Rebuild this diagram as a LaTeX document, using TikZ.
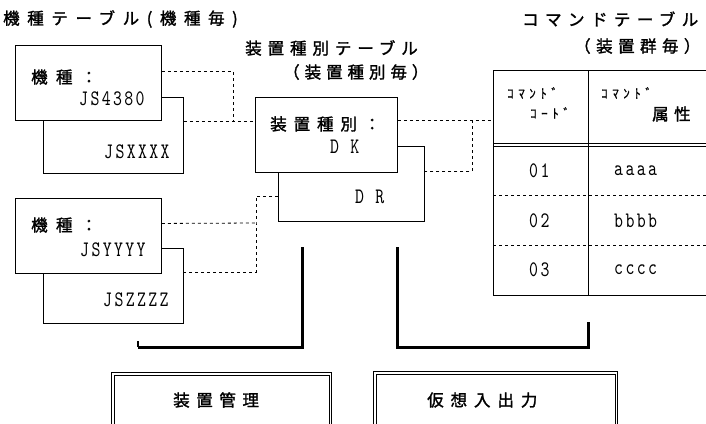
\documentclass[tikz,border=0pt]{standalone}
\usepackage{fontspec}
\usepackage{graphicx}
\newfontfamily\jp{Noto Sans CJK JP}[FakeBold=1.6]
\newfontfamily\jpl{Noto Sans CJK JP}[FakeBold=0.8]
\newfontfamily\lmmono{lmmono10-regular.otf}[LetterSpace=14]
\newcommand\tallmono[1]{\scalebox{1}[1.3]{#1}}
\usetikzlibrary{calc}
\tikzset{
  box/.style={draw, line width=0.9pt, fill=white, rectangle, inner sep=0pt, anchor=north west},
  outerbox/.style={draw, line width=1.3pt, fill=white, rectangle, inner sep=0pt, anchor=north west},
  jtxt/.style={inner sep=0pt, font=\jp\fontsize{16.5}{16.5}\selectfont\addfontfeature{LetterSpace=#1}},
  jtxt/.default=35,
  mtxt/.style={inner sep=0pt, font=\lmmono\fontsize{17}{17}\selectfont},
  htxt/.style={inner sep=0pt, font=\jpl\fontsize{13}{13}\selectfont\addfontfeature{LetterSpace=35}},
  dline/.style={line width=0.8pt, dash pattern=on 3pt off 3pt},
  heavy/.style={line width=3pt, line cap=butt, line join=miter},
}
\begin{document}
\begin{tikzpicture}[x=1pt,y=-1pt]
\useasboundingbox (0,0) rectangle (706,423);
\clip (0,0) rectangle (706,423);

% titles
\node[jtxt=46, anchor=west] (t1) at (3,19) {機種テーブル(機種毎)};
\node[jtxt=36, anchor=west] (t2) at (245,48) {装置種別テーブル};
\node[jtxt=30, anchor=west] (t3) at (283,72) {（装置種別毎）};
\node[jtxt=39, anchor=west] (t4) at (522,19) {コマンドテーブル};
\node[jtxt=33, anchor=west] (t5) at (574,46) {（装置群毎）};

% kishu table 1
\node[box, minimum width=140pt, minimum height=76pt] (A2) at (43,97) {};
\node[box, minimum width=146pt, minimum height=75pt] (A1) at (15,45) {};
\node[jtxt=50, anchor=west] (a1l) at (31,77) {機種：};
\node[mtxt, anchor=west] (a1v) at (79,99) {\tallmono{JS4380}};
\node[mtxt, anchor=west] (a2v) at (104,152) {\tallmono{JSXXXX}};

% kishu table 2
\node[box, minimum width=140pt, minimum height=75pt] (C2) at (43,248) {};
\node[box, minimum width=146pt, minimum height=75pt] (C1) at (15,198) {};
\node[jtxt=50, anchor=west] (c1l) at (31,225) {機種：};
\node[mtxt, anchor=west] (c1v) at (80,250) {\tallmono{JSYYYY}};
\node[mtxt, anchor=west] (c2v) at (103,300) {\tallmono{JSZZZZ}};

% souchi shubetsu
\node[box, minimum width=146pt, minimum height=75pt] (B2) at (278,146) {};
\node[box, minimum width=142pt, minimum height=75pt] (B1) at (255,97) {};
\node[jtxt=42, anchor=west] (b1l) at (270,124) {装置種別：};
\node[mtxt, anchor=west] (b1v) at (330,147) {\tallmono{D K}};
\node[mtxt, anchor=west] (b2v) at (355,197) {\tallmono{D R}};

% command table
\node[draw, line width=0.9pt, rectangle, inner sep=0pt, anchor=north west, minimum width=260pt, minimum height=225pt] (T) at (493,70) {};
\draw[line width=0.8pt] (588,70) -- (588,295);
\draw[line width=0.7pt] (493,143.5) -- (720,143.5) (493,146.5) -- (720,146.5);
\draw[dline] (493,195) -- (720,195);
\draw[dline] (493,245) -- (720,245);
\node[htxt, anchor=west] (h1) at (507,93) {ｺﾏﾝﾄﾞ};
\node[htxt, anchor=west] (h2) at (530,113) {ｺｰﾄﾞ};
\node[htxt, anchor=west] (h3) at (601,93) {ｺﾏﾝﾄﾞ};
\node[jtxt=33, anchor=west] (h4) at (652,114) {属性};
\node[mtxt, anchor=west] (r1a) at (529,171) {\tallmono{01}};
\node[mtxt, anchor=west] (r1b) at (614,171) {\tallmono{aaaa}};
\node[mtxt, anchor=west] (r2a) at (529,221) {\tallmono{02}};
\node[mtxt, anchor=west] (r2b) at (614,221) {\tallmono{bbbb}};
\node[mtxt, anchor=west] (r3a) at (529,270) {\tallmono{03}};
\node[mtxt, anchor=west] (r3b) at (614,270) {\tallmono{cccc}};

% dashed connectors
\coordinate (j1) at (233,121);
\coordinate (j2) at (472,120);
\coordinate (j3) at (256,223);
\draw[dline] ([yshift=11.5pt]A1.east) -| (j1);
\draw[dline] ([yshift=14pt]A2.east) -- ([yshift=13.5pt]B1.west);
\draw[dline] (B1.east |- j2) -- (T.west |- j2);
\draw[dline] (j2) |- ([yshift=12.5pt]B2.east);
\draw[dline] ([yshift=12.5pt]C1.east) -- (j3);
\draw[dline] ([yshift=-12.5pt]B2.west) -| (j3) |- ([yshift=13.5pt]C2.east);

% heavy connectors
\coordinate (p1) at (302,247);
\coordinate (p2) at (302,347);
\coordinate (p3) at (138,347);
\coordinate (p4) at (138,341);
\coordinate (q1) at (397,247);
\coordinate (q2) at (397,347);
\coordinate (q3) at (588,347);
\coordinate (q4) at (588,322);
\draw[heavy] (p1) -- (p2) -- (p3);
\draw[line width=1.2pt] (p3) -- (p4);
\draw[heavy] (q1) -- (q2) -- (q3) -- (q4);

% bottom boxes
\node[outerbox, minimum width=220pt, minimum height=80pt] (M) at (111,372) {};
\draw[line width=0.6pt] ([shift={(3pt,-3pt)}]M.north west) rectangle ([shift={(-3pt,3pt)}]M.south east);
\node[jtxt=40, anchor=west] (Ml) at (173,400) {装置管理};
\node[outerbox, minimum width=244pt, minimum height=80pt] (V) at (373,371) {};
\draw[line width=0.6pt] ([shift={(3pt,-3pt)}]V.north west) rectangle ([shift={(-3pt,3pt)}]V.south east);
\node[jtxt=42, anchor=west] (Vl) at (427,400) {仮想入出力};
\end{tikzpicture}
\end{document}
